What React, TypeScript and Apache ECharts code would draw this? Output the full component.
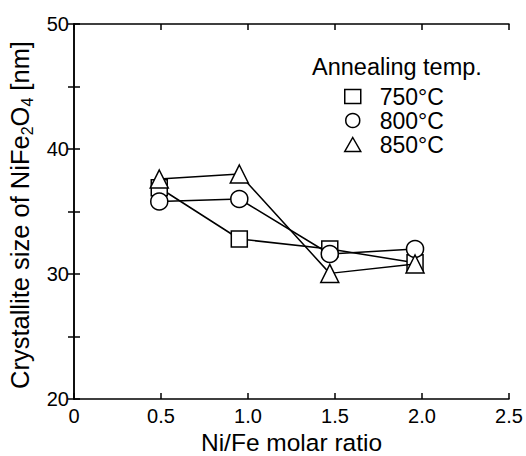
import React, { useEffect, useRef } from "react";
import * as echarts from "echarts";

const ratios = [0.49, 0.95, 1.47, 1.96];
const size750 = [36.9, 32.8, 32.0, 30.9];
const size800 = [35.8, 36.0, 31.6, 32.0];
const size850 = [37.6, 38.0, 30.05, 30.8];
const seriesNames = ["750°C", "800°C", "850°C"];
const seriesSymbols = ["rect", "circle", "triangle"];
const seriesSizes = [16, 17, 18];

const FONT = "'Liberation Sans', Arial, Helvetica, sans-serif";

export default function App() {
  const ref = useRef<HTMLDivElement>(null);
  useEffect(() => {
    if (!ref.current) return;
    const chart = echarts.init(ref.current, undefined, { renderer: "svg" });
    const values = [size750, size800, size850];
    const axisCommon = {
      axisLine: { show: true, lineStyle: { color: "#000", width: 1.5 } },
      axisTick: { show: true, inside: true, length: 6, lineStyle: { color: "#000", width: 1.5 } },
      splitLine: { show: false },
    };
    chart.setOption({
      animation: false,
      backgroundColor: "#fff",
      textStyle: { fontFamily: FONT },
      grid: { left: 74, right: 17, top: 24, bottom: 57, containLabel: false, outerBoundsMode: "none" },
      title: {
        text: "Annealing temp.",
        left: 312,
        top: 55,
        padding: 0,
        textStyle: { fontFamily: FONT, fontSize: 23.5, fontWeight: "normal", color: "#000" },
      },
      legend: {
        orient: "vertical",
        left: 344,
        top: 85,
        padding: 0,
        itemWidth: 16,
        itemHeight: 14,
        itemGap: 1,
        selectedMode: false,
        textStyle: { fontFamily: FONT, fontSize: 23, color: "#000", padding: [0, 0, 0, 14], lineHeight: 22 },
        itemStyle: { color: "#fff", borderColor: "#000", borderWidth: 1.5 },
        data: seriesNames.map((n, i) => ({ name: n, icon: seriesSymbols[i] })),
      },
      xAxis: [
        {
          type: "value",
          min: 0,
          max: 2.5,
          interval: 0.5,
          name: "Ni/Fe molar ratio",
          nameLocation: "middle",
          nameGap: 34,
          nameMoveOverlap: false,
          nameTextStyle: { fontFamily: FONT, fontSize: 24.5, lineHeight: 18, color: "#000" },
          axisLabel: {
            color: "#000",
            fontFamily: FONT,
            fontSize: 20,
            margin: 7,
            formatter: (v: number) => (v === 0 ? "0" : v.toFixed(1)),
          },
          ...axisCommon,
        },
        {
          type: "value",
          position: "top",
          min: 0,
          max: 2.5,
          interval: 0.5,
          axisLabel: { show: false },
          ...axisCommon,
        },
      ],
      yAxis: [
        {
          type: "value",
          min: 20,
          max: 50,
          interval: 5,
          name: "{n|Crystallite size of NiFe}{s|2}{n|O}{s|4}{n| [nm]}",
          nameLocation: "middle",
          nameGap: 39,
          nameMoveOverlap: false,
          nameTextStyle: {
            fontFamily: FONT,
            color: "#000",
            padding: [0, 7, 0, 0],
            rich: {
              n: { fontFamily: FONT, fontSize: 25.5, lineHeight: 30, color: "#000" },
              s: { fontFamily: FONT, fontSize: 16, lineHeight: 14, verticalAlign: "bottom", color: "#000" },
            },
          },
          axisLabel: {
            color: "#000",
            fontFamily: FONT,
            fontSize: 20,
            margin: 5,
            formatter: (v: number) => (v % 10 === 0 ? String(v) : ""),
          },
          ...axisCommon,
        },
        {
          type: "value",
          position: "right",
          min: 20,
          max: 50,
          interval: 5,
          axisLabel: { show: false },
          ...axisCommon,
        },
      ],
      series: seriesNames.map((n, i) => ({
        name: n,
        type: "line",
        data: ratios.map((x, j) => [x, values[i][j]]),
        symbol: seriesSymbols[i],
        symbolSize: seriesSizes[i],
        showAllSymbol: true,
        lineStyle: { color: "#000", width: 1.5 },
        itemStyle: { color: "#fff", borderColor: "#000", borderWidth: 1.5 },
        z: 2 + i,
      })),
    });
    return () => chart.dispose();
  }, []);
  return <div ref={ref} style={{ position: "fixed", left: 0, top: 0, width: 526, height: 456 }} />;
}
